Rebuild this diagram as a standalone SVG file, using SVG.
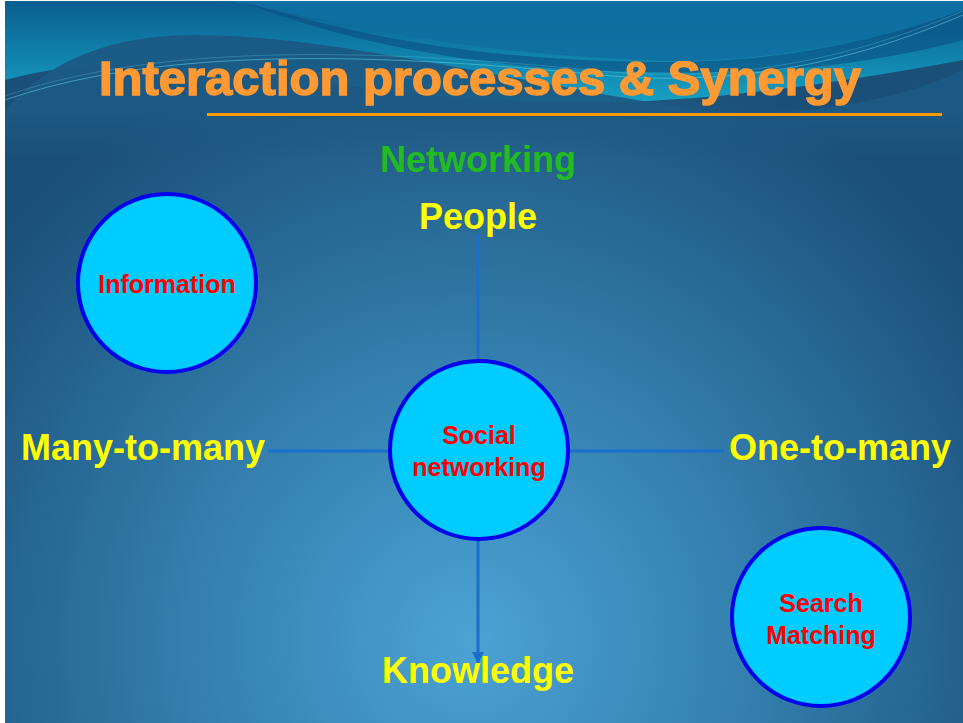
<svg xmlns="http://www.w3.org/2000/svg" width="963" height="723" viewBox="0 0 963 723">
<defs>
<radialGradient id="bg" cx="470" cy="640" r="620" gradientUnits="userSpaceOnUse">
<stop offset="0" stop-color="#4ba3d4"/>
<stop offset="0.45" stop-color="#347fae"/>
<stop offset="1" stop-color="#1a4f78"/>
</radialGradient>
<linearGradient id="topg" x1="0" y1="0" x2="0" y2="1">
<stop offset="0" stop-color="#0a5e90"/>
<stop offset="1" stop-color="#16a0c2"/>
</linearGradient>
<linearGradient id="hump" x1="0" y1="35" x2="0" y2="160" gradientUnits="userSpaceOnUse">
<stop offset="0" stop-color="#1a5a86" stop-opacity="1"/>
<stop offset="0.6" stop-color="#1c5a84" stop-opacity="0.9"/>
<stop offset="1" stop-color="#1c5a84" stop-opacity="0"/>
</linearGradient>
<marker id="arr" viewBox="0 0 12 12" refX="11" refY="6" markerWidth="12" markerHeight="12" markerUnits="userSpaceOnUse" orient="auto">
<path d="M0,0 L12,6 L0,12 Z" fill="#1a6fcc"/>
</marker>
<style>
.lbl{font-family:"Liberation Sans",Arial,sans-serif;font-weight:bold;text-anchor:middle}
.ax{font-size:36px;fill:#ffff00}
.nd{font-size:25px;fill:#ff0000}
.circ{fill:#00ccff;stroke:#0000ee;stroke-width:4}
.conn{stroke:#1a6fcc;stroke-width:3;fill:none}
</style>
</defs>
<rect x="0" y="0" width="963" height="723" fill="#ffffff"/>
<rect x="5" y="1" width="958" height="722" fill="url(#bg)"/>
<!-- header waves -->
<path d="M5,1 H963 V60 C800,90 650,110 500,100 C300,90 150,40 5,80 Z" fill="url(#topg)"/>
<path d="M230,1 C330,20 430,50 640,60 C760,66 860,40 963,20 V1 Z" fill="#0f6fa2" opacity="0.9"/>
<path d="M240,1 C340,30 460,60 650,62 C780,64 880,40 963,10 V40 C880,62 780,76 650,72 C470,70 340,40 240,1 Z" fill="#0a4f80" opacity="0.6"/>
<path d="M5,110 C50,60 110,36 190,35 C330,34 500,80 700,110 C800,120 900,100 963,70 V160 H5 Z" fill="url(#hump)"/>
<path d="M5,100 C150,50 350,50 600,75 C760,90 880,50 963,15" fill="none" stroke="#5fd0e0" stroke-width="0.8" opacity="0.7"/>
<path d="M5,96 C150,46 350,46 600,71 C760,86 880,46 963,11" fill="none" stroke="#5fd0e0" stroke-width="0.6" opacity="0.5"/>
<text x="480" y="95" font-family="Liberation Sans,Arial,sans-serif" font-weight="bold" font-size="48" fill="#ff9933" stroke="#ff9933" stroke-width="1.5" text-anchor="middle" textLength="762" lengthAdjust="spacingAndGlyphs">Interaction processes &amp; Synergy</text>
<rect x="207" y="113" width="735" height="3" fill="#ff9900"/>
<g id="connectors">
<line class="conn" x1="478" y1="235" x2="478" y2="359"/>
<line class="conn" x1="478" y1="541" x2="478" y2="663" marker-end="url(#arr)"/>
<line class="conn" x1="268" y1="451" x2="388" y2="451"/>
<line class="conn" x1="570" y1="451" x2="724" y2="451"/>
</g>
<g id="axis-labels">
<text class="lbl" x="478" y="172" font-size="36" fill="#22bb22">Networking</text>
<text class="lbl ax" x="478" y="229">People</text>
<text class="lbl ax" x="143" y="460">Many-to-many</text>
<text class="lbl ax" x="840" y="460">One-to-many</text>
<text class="lbl ax" x="478" y="683">Knowledge</text>
</g>
<g id="node-information">
<circle class="circ" cx="167" cy="283" r="89"/>
<text class="lbl nd" x="167" y="293">Information</text>
</g>
<g id="node-social">
<circle class="circ" cx="479" cy="450" r="89"/>
<text class="lbl nd" x="479" y="444">Social</text>
<text class="lbl nd" x="479" y="476">networking</text>
</g>
<g id="node-search">
<circle class="circ" cx="821" cy="617" r="89"/>
<text class="lbl nd" x="821" y="612">Search</text>
<text class="lbl nd" x="821" y="644">Matching</text>
</g>
</svg>
